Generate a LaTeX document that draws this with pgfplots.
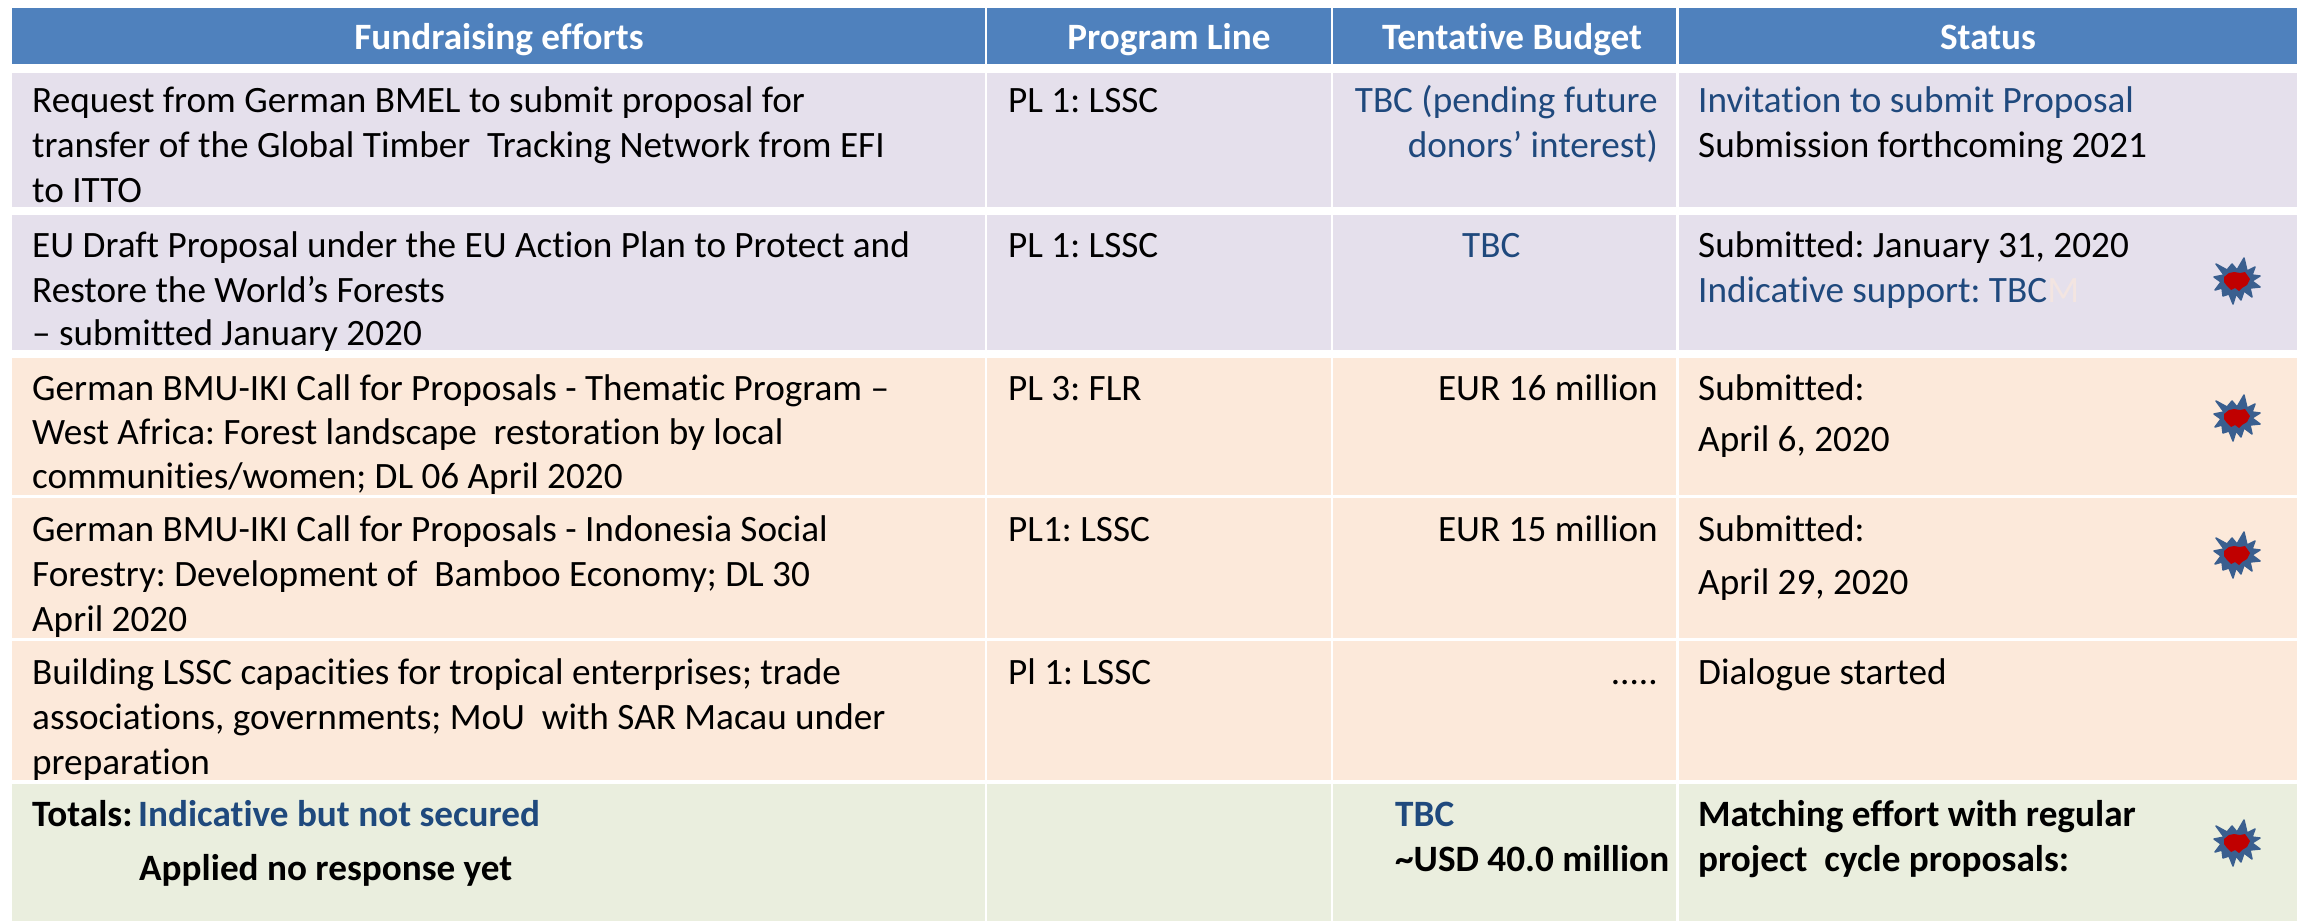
\documentclass[border=0pt]{standalone}
\usepackage{fontspec}
\setmainfont{Carlito}[Ligatures=NoCommon]
\usepackage{pgfplots}
\usepackage{pgfplotstable}
\pgfplotsset{compat=1.18}

\definecolor{headblue}{HTML}{4F81BD}
\definecolor{lav}{HTML}{E5E0EC}
\definecolor{peach}{HTML}{FCE9DA}
\definecolor{sage}{HTML}{EAEEDE}
\definecolor{inkblue}{HTML}{1F497D}
\definecolor{starblue}{HTML}{3A5F8F}
\definecolor{starred}{HTML}{C00000}

% star shapes, pixel offsets from the centre
\pgfplotstableread{
x y
-21 -16
-10 -10
-5 -16
0 -10
7 -22
10 -9
18 -13
15 -5
23 -4
15 1
23 7
13 8
15 17
7 11
4 20
-1 14
-4 24
-8 14
-14 16
-15 8
-22 10
-16 2
-23 -3
-13 -5
}\starouter
\pgfplotstableread{
x y
-13 -3
-8 -7
-3 -8
3 -7
8 -8
13 -1
10 5
5 8
2 11
-2 8
-6 10
-10 6
-13 2
}\starinner

\newcommand{\body}{\fontsize{37.2}{44}\selectfont\frenchspacing}
\newcommand{\cell}[5]{\addplot[fill=#5,draw=none,forget plot] coordinates {(#1,#2)(#3,#2)(#3,#4)(#1,#4)} --cycle;}
\newcommand{\burst}[2]{%
  \addplot[fill=starblue,draw=starblue,line width=1.5pt,line join=round,forget plot]
    table[x expr=\thisrow{x}+#1,y expr=\thisrow{y}+#2] {\starouter} --cycle;
  \addplot[fill=starred,draw=none,forget plot]
    table[x expr=\thisrow{x}+#1,y expr=\thisrow{y}+#2] {\starinner} --cycle;}
\newcommand{\txt}[3]{\node[anchor=base west,inner sep=0pt,font=\body,yshift=-2pt] at (axis cs:#1,#2) {#3};}
\newcommand{\txtr}[3]{\node[anchor=base east,inner sep=0pt,font=\body,yshift=-2pt] at (axis cs:#1,#2) {#3};}
\newcommand{\head}[2]{\node[anchor=base,inner sep=0pt,text=white,font=\body\bfseries] at (axis cs:#1,49) {#2};}

\begin{document}
\begin{tikzpicture}
\begin{axis}[
    width=2307pt, height=921pt, scale only axis,
    xmin=0, xmax=2307, ymin=0, ymax=921, y dir=reverse,
    hide axis, clip=true,
]
\cell{0}{0}{2307}{921}{white}
% header
\cell{12}{8}{985}{64}{headblue}
\cell{987}{8}{1331}{64}{headblue}
\cell{1333}{8}{1676}{64}{headblue}
\cell{1679}{8}{2297}{64}{headblue}
% rows
\cell{12}{73}{985}{207}{lav}
\cell{987}{73}{1331}{207}{lav}
\cell{1333}{73}{1676}{207}{lav}
\cell{1679}{73}{2297}{207}{lav}
\cell{12}{215}{985}{350}{lav}
\cell{987}{215}{1331}{350}{lav}
\cell{1333}{215}{1676}{350}{lav}
\cell{1679}{215}{2297}{350}{lav}
\cell{12}{358}{985}{495}{peach}
\cell{987}{358}{1331}{495}{peach}
\cell{1333}{358}{1676}{495}{peach}
\cell{1679}{358}{2297}{495}{peach}
\cell{12}{498}{985}{638}{peach}
\cell{987}{498}{1331}{638}{peach}
\cell{1333}{498}{1676}{638}{peach}
\cell{1679}{498}{2297}{638}{peach}
\cell{12}{641}{985}{780}{peach}
\cell{987}{641}{1331}{780}{peach}
\cell{1333}{641}{1676}{780}{peach}
\cell{1679}{641}{2297}{780}{peach}
\cell{12}{784}{985}{921}{sage}
\cell{987}{784}{1331}{921}{sage}
\cell{1333}{784}{1676}{921}{sage}
\cell{1679}{784}{2297}{921}{sage}

\burst{2237}{280}
\burst{2237}{417}
\burst{2237}{554}
\burst{2237}{842}

% header text
\head{499}{Fundraising efforts}
\head{1169}{Program Line}
\head{1512}{Tentative Budget}
\head{1988}{Status}

% row 1
\txt{32}{110}{Request from German BMEL to submit proposal for}
\txt{32}{155}{transfer of the Global Timber\ \ Tracking Network from EFI}
\txt{32}{200}{to ITTO}
\txt{1008}{110}{PL 1: LSSC}
\txtr{1658}{110}{\color{inkblue}TBC (pending future}
\txtr{1658}{155}{\color{inkblue}donors’ interest)}
\txt{1698}{110}{\color{inkblue}Invitation to submit Proposal}
\txt{1698}{155}{Submission forthcoming 2021}
% row 2
\txt{32}{255}{EU Draft Proposal under the EU Action Plan to Protect and}
\txt{32}{300}{Restore the World’s Forests}
\txt{32}{343}{– submitted January 2020}
\txt{1008}{255}{PL 1: LSSC}
\txt{1462}{255}{\color{inkblue}TBC}
\txt{1698}{255}{Submitted: January 31, 2020}
\txt{1698}{300}{\color{inkblue}Indicative support: TBC\color{peach!60!lav}M}
% row 3
\txt{32}{398}{German BMU-IKI Call for Proposals - Thematic Program –}
\txt{32}{442}{West Africa: Forest landscape\ \ restoration by local}
\txt{32}{486}{communities/women; DL 06 April 2020}
\txt{1008}{398}{PL 3: FLR}
\txtr{1658}{398}{EUR 16 million}
\txt{1698}{398}{Submitted:}
\txt{1698}{449}{April 6, 2020}
% row 4
\txt{32}{539}{German BMU-IKI Call for Proposals - Indonesia Social}
\txt{32}{584}{Forestry: Development of\ \ Bamboo Economy; DL 30}
\txt{32}{629}{April 2020}
\txt{1008}{539}{PL1: LSSC}
\txtr{1658}{539}{EUR 15 million}
\txt{1698}{539}{Submitted:}
\txt{1698}{592}{April 29, 2020}
% row 5
\txt{32}{682}{Building LSSC capacities for tropical enterprises; trade}
\txt{32}{727}{associations, governments; MoU\ \ with SAR Macau under}
\txt{32}{772}{preparation}
\txt{1008}{682}{Pl 1: LSSC}
\txtr{1658}{682}{.....}
\txt{1698}{682}{Dialogue started}
% row 6
\txt{32}{824}{\bfseries Totals:}
\txt{138}{824}{\bfseries\color{inkblue}Indicative but not secured}
\txt{139}{878}{\bfseries Applied no response yet}
\txt{1395}{824}{\bfseries\color{inkblue}TBC}
\txt{1395}{869}{\bfseries \textasciitilde USD 40.0 million}
\txt{1698}{824}{\bfseries Matching effort with regular}
\txt{1698}{869}{\bfseries project\ \ cycle proposals:}
\end{axis}
\end{tikzpicture}
\end{document}
